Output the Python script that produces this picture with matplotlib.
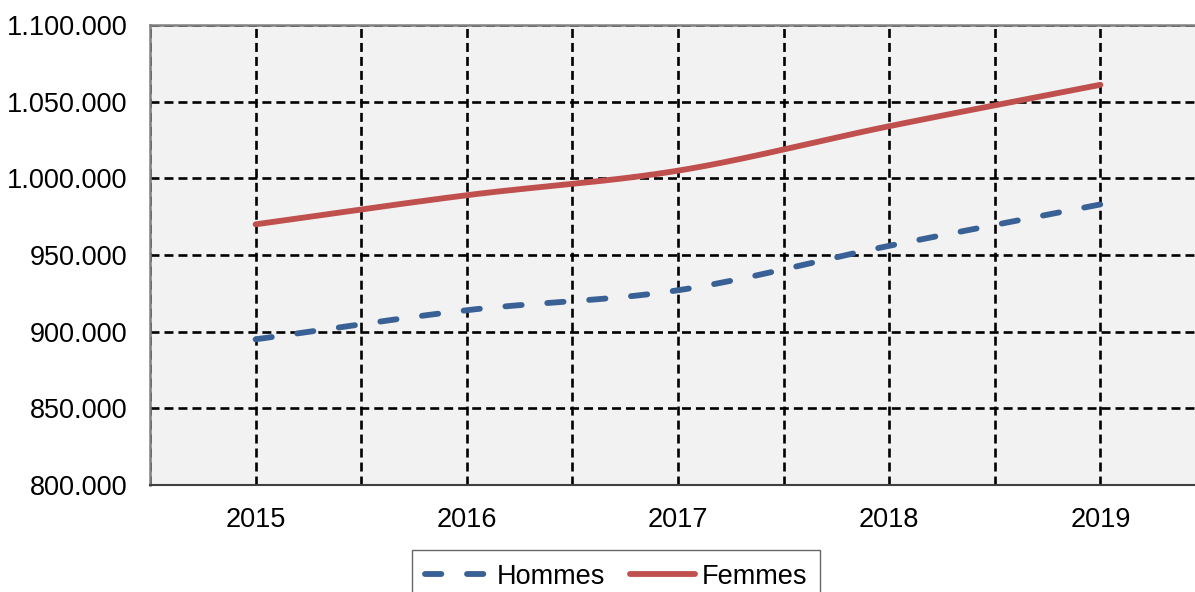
import numpy as np
import matplotlib.pyplot as plt
from matplotlib.ticker import FuncFormatter

plt.rcParams['font.family'] = ['Liberation Sans', 'DejaVu Sans']

annees = ['2015', '2016', '2017', '2018', '2019']
hommes = [895000, 914000, 927000, 956000, 983000]
femmes = [970000, 989000, 1005000, 1034000, 1061000]


# courbe lissée (type Excel) entre les points
def lisser(y, n=40):
    y = np.asarray(y, dtype=float)
    x = np.arange(len(y), dtype=float)
    m = np.gradient(y)
    xs, ys = [], []
    for i in range(len(y) - 1):
        t = np.linspace(0, 1, n)
        h00 = 2 * t**3 - 3 * t**2 + 1
        h10 = t**3 - 2 * t**2 + t
        h01 = -2 * t**3 + 3 * t**2
        h11 = t**3 - t**2
        xs.append(x[i] + t)
        ys.append(h00 * y[i] + h10 * m[i] + h01 * y[i + 1] + h11 * m[i + 1])
    return np.concatenate(xs), np.concatenate(ys)


fig = plt.figure(figsize=(11.95, 5.92), dpi=100)
ax = fig.add_axes([150 / 1195, 1 - 485 / 592, 1056 / 1195, 460 / 592])
ax.set_facecolor('#F2F2F2')

grille = dict(color='black', lw=1.9, linestyle=(0, (3.4, 1.9)), zorder=1)
for k in np.arange(-0.5, len(annees) + 0.5, 0.5):
    ax.axvline(k, **grille)
for v in range(850000, 1100001, 50000):
    ax.axhline(v, **grille)

xh, yh = lisser(hommes)
xf, yf = lisser(femmes)
ax.plot(xh, yh, color='#3A6195', lw=4.2, dashes=(2.8, 4.4),
        dash_capstyle='round', solid_capstyle='round', label='Hommes', zorder=3)
ax.plot(xf, yf, color='#C0504D', lw=4.2, solid_capstyle='round',
        label='Femmes', zorder=3)

ax.set_xlim(-0.5, len(annees) - 0.5)
ax.set_ylim(800000, 1100000)
ax.set_xticks(range(len(annees)))
ax.set_xticklabels(annees)
ax.set_yticks(range(800000, 1100001, 50000))
ax.yaxis.set_major_formatter(FuncFormatter(lambda v, p: f'{int(v):,}'.replace(',', '.')))
ax.tick_params(length=0, labelsize=19.5, pad=16)

for s in ['left', 'top']:
    ax.spines[s].set_color('#808080')
    ax.spines[s].set_linewidth(1.8)
ax.spines['bottom'].set_color('#404040')
ax.spines['bottom'].set_linewidth(1.5)
ax.spines['right'].set_visible(False)

leg = fig.legend(loc='upper center', bbox_to_anchor=(616 / 1195, 1 - 550 / 592),
                 ncol=2, fontsize=19.5, frameon=True, fancybox=False,
                 handlelength=2.4, handletextpad=0.25, columnspacing=0.9,
                 borderaxespad=0, borderpad=0.5)
leg.get_frame().set_edgecolor('#404040')
leg.get_frame().set_linewidth(1.0)

fig.savefig('out.png', dpi=100)
